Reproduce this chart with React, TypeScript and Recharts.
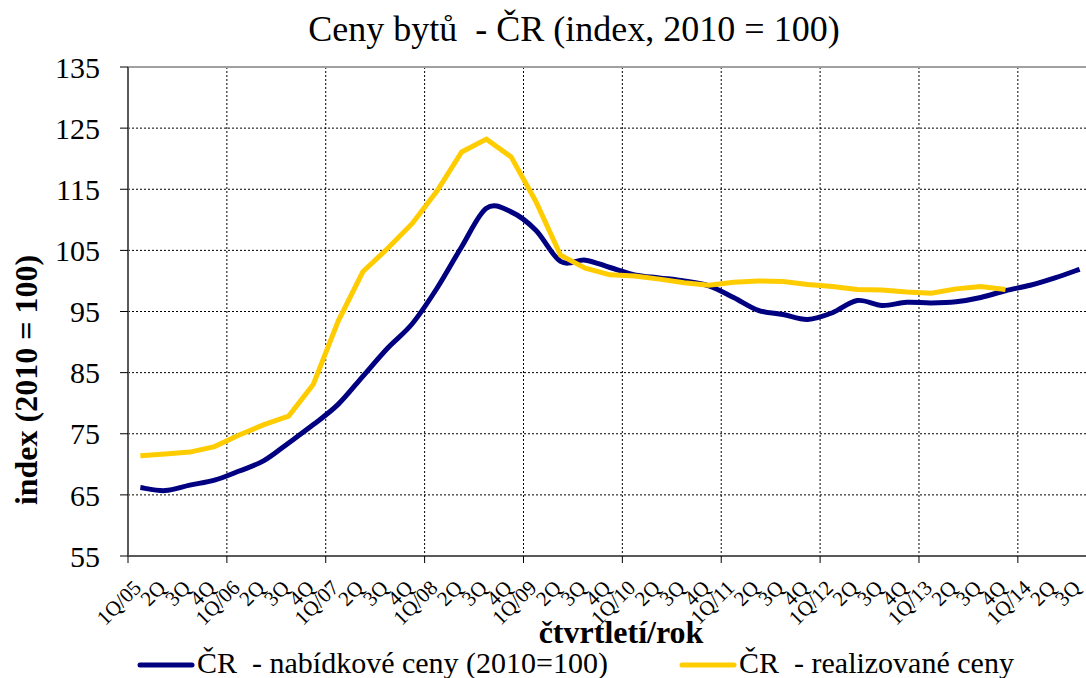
import { LineChart, Line, XAxis, YAxis, CartesianGrid, ReferenceLine } from 'recharts';

// quarter labels as printed under the axis (1Q/05 .. 3Q/14)
const quarters = [
  '1Q/05', '2Q', '3Q', '4Q',
  '1Q/06', '2Q', '3Q', '4Q',
  '1Q/07', '2Q', '3Q', '4Q',
  '1Q/08', '2Q', '3Q', '4Q',
  '1Q/09', '2Q', '3Q', '4Q',
  '1Q/10', '2Q', '3Q', '4Q',
  '1Q/11', '2Q', '3Q', '4Q',
  '1Q/12', '2Q', '3Q', '4Q',
  '1Q/13', '2Q', '3Q', '4Q',
  '1Q/14', '2Q', '3Q',
];

// ČR - nabídkové ceny (2010=100)
const offerPrices = [
  66.2, 65.7, 66.6, 67.4, 68.9, 70.6, 73.5, 76.5,
  79.8, 84.4, 89.0, 93.0, 98.8, 105.6, 111.9, 111.3,
  108.3, 103.2, 103.4, 102.2, 101.0, 100.5, 100.0, 99.2,
  97.3, 95.2, 94.5, 93.7, 94.8, 96.8, 96.0, 96.5,
  96.4, 96.6, 97.3, 98.4, 99.3, 100.5, 101.9,
];

// ČR - realizované ceny (ends at 4Q/13)
const realizedPrices = [
  71.4, 71.7, 72.0, 72.9, 74.8, 76.5, 77.9, 83.1,
  93.4, 101.5, 105.3, 109.4, 114.7, 121.1, 123.2, 120.3,
  113.0, 104.2, 102.1, 101.0, 100.8, 100.3, 99.7, 99.3,
  99.8, 100.0, 99.9, 99.4, 99.1, 98.6, 98.5, 98.2,
  98.0, 98.7, 99.1, 98.6,
];

const seriesNames = ['ČR  - nabídkové ceny (2010=100)', 'ČR  - realizované ceny'];
const seriesColors = ['#000080', '#FFCC00'];

const yTicks = [55, 65, 75, 85, 95, 105, 115, 125, 135];

const FONT = '"Liberation Serif", "Times New Roman", serif';

// category boundaries at the start of each year (Excel style "between tick marks")
const yearBounds = quarters
  .map((q, i) => (q.startsWith('1Q') ? i - 0.5 : null))
  .filter((v): v is number => v !== null);
const quarterIdx = quarters.map((_, i) => i);

const data = quarters.map((q, i) => ({
  i,
  q,
  offer: offerPrices[i],
  realized: realizedPrices[i] ?? null,
}));

// Excel's "smoothed line" is close to a Catmull-Rom spline, which d3's
// monotone curve can't do (no overshoot), so a tiny curve factory here.
function excelSmooth(context: any) {
  let pts: [number, number][] = [];
  return {
    areaStart() {},
    areaEnd() {},
    lineStart() { pts = []; },
    point(x: number, y: number) { pts.push([+x, +y]); },
    lineEnd() {
      if (!pts.length) return;
      context.moveTo(pts[0][0], pts[0][1]);
      for (let k = 0; k < pts.length - 1; k++) {
        const p0 = pts[Math.max(k - 1, 0)];
        const p1 = pts[k];
        const p2 = pts[k + 1];
        const p3 = pts[Math.min(k + 2, pts.length - 1)];
        context.bezierCurveTo(
          p1[0] + (p2[0] - p0[0]) / 6, p1[1] + (p2[1] - p0[1]) / 6,
          p2[0] - (p3[0] - p1[0]) / 6, p2[1] - (p3[1] - p1[1]) / 6,
          p2[0], p2[1],
        );
      }
    },
  };
}

function QuarterTick({ x, y, payload }: any) {
  const tx = x + 2;
  const ty = y + 32;
  return (
    <text
      x={tx}
      y={ty}
      transform={`rotate(-45 ${tx} ${ty})`}
      textAnchor="end"
      fontFamily={FONT}
      fontSize={21}
      fill="#000"
    >
      {quarters[payload.value]}
    </text>
  );
}

const NoTick = () => <g />;

export default function App() {
  const domain: [number, number] = [-0.5, quarters.length - 0.5];
  return (
    <div
      style={{
        position: 'absolute', left: 0, top: 0, width: 1086, height: 678,
        overflow: 'hidden', background: '#fff', fontFamily: FONT,
      }}
    >
      <LineChart
        width={1100}
        height={678}
        data={data}
        margin={{ top: 67, right: 8, bottom: 0, left: 0 }}
      >
        <CartesianGrid stroke="#000" strokeDasharray="2 2" strokeWidth={1} />
        <XAxis
          dataKey="i"
          type="number"
          domain={domain}
          ticks={yearBounds}
          interval={0}
          tick={<NoTick />}
          tickSize={7}
          height={1}
          axisLine={{ stroke: '#595959', strokeWidth: 2 }}
          tickLine={{ stroke: '#000' }}
        />
        <XAxis
          xAxisId="lbl"
          dataKey="i"
          type="number"
          domain={domain}
          ticks={quarterIdx}
          interval={0}
          tick={<QuarterTick />}
          tickLine={false}
          axisLine={false}
          tickSize={0}
          tickMargin={0}
          height={121}
        />
        <YAxis
          domain={[55, 135]}
          ticks={yTicks}
          width={128}
          tickSize={8}
          tickMargin={20}
          tick={{ fontSize: 30, fontFamily: FONT, fill: '#000' }}
          axisLine={{ stroke: '#595959', strokeWidth: 2 }}
          tickLine={{ stroke: '#000' }}
        />
        <ReferenceLine y={135} stroke="#a0a0a0" strokeWidth={2} />
        <Line
          dataKey="offer"
          type={excelSmooth as any}
          stroke={seriesColors[0]}
          strokeWidth={5}
          dot={false}
          isAnimationActive={false}
        />
        <Line
          dataKey="realized"
          type="linear"
          stroke={seriesColors[1]}
          strokeWidth={5}
          dot={false}
          isAnimationActive={false}
        />
      </LineChart>

      <svg
        width={1086}
        height={678}
        style={{ position: 'absolute', left: 0, top: 0, pointerEvents: 'none' }}
        fontFamily={FONT}
      >
        <text x={574} y={41} textAnchor="middle" fontSize={36} style={{ whiteSpace: 'pre' }}>
          Ceny bytů  - ČR (index, 2010 = 100)
        </text>
        <text
          x={37}
          y={380}
          transform="rotate(-90 37 380)"
          textAnchor="middle"
          fontSize={32}
          fontWeight="bold"
        >
          index (2010 = 100)
        </text>
        <text x={621} y={643} textAnchor="middle" fontSize={32} fontWeight="bold">
          čtvrtletí/rok
        </text>
        {seriesNames.map((name, k) => {
          const x0 = k === 0 ? 140 : 682;
          return (
            <g key={name}>
              <line x1={x0} x2={x0 + 52} y1={665} y2={665} stroke={seriesColors[k]} strokeWidth={5} strokeLinecap="round" />
              <text x={x0 + 57} y={673} fontSize={30} style={{ whiteSpace: 'pre' }}>
                {name}
              </text>
            </g>
          );
        })}
      </svg>
    </div>
  );
}
